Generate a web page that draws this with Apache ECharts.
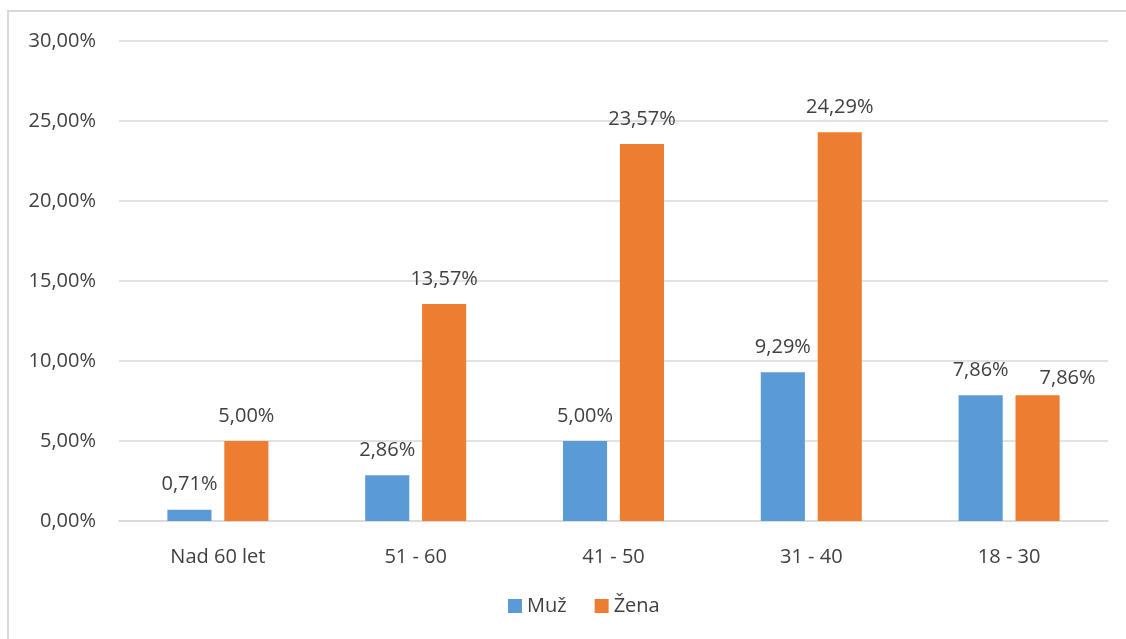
<!DOCTYPE html>
<html>
<head>
<meta charset="utf-8">
<script src="https://cdn.jsdelivr.net/npm/echarts@6/dist/echarts.min.js"></script>
<style>
  html, body { margin: 0; padding: 0; background: #fff; overflow: hidden; }
  #frame { position: absolute; left: 7px; top: 10px; width: 1130px; height: 640px;
           border: 2px solid #d9d9d9; box-sizing: border-box; }
  #chart { position: absolute; left: 0; top: 0; width: 1126px; height: 639px; }
</style>
</head>
<body>
<div id="frame"></div>
<div id="chart"></div>
<script>
// Age groups and share of respondents (%) by gender
const categories = ['Nad 60 let', '51 - 60', '41 - 50', '31 - 40', '18 - 30'];
const muz = [0.71, 2.86, 5.00, 9.29, 7.86];
const zena = [5.00, 13.57, 23.57, 24.29, 7.86];
const seriesNames = ['Muž', 'Žena'];

const fmt = v => v.toFixed(2).replace('.', ',') + '%';
const textColor = '#404040';
const font = 'Open Sans';
const fs = 20;

const chart = echarts.init(document.getElementById('chart'));
chart.setOption({
  animation: false,
  grid: { left: 119, right: 18, top: 41, bottom: 118 },
  legend: {
    bottom: 18, left: 503,
    itemWidth: 14, itemHeight: 14, itemGap: 28, itemTextGap: 7,
    icon: 'rect',
    textStyle: { color: textColor, fontSize: fs, fontFamily: font }
  },
  xAxis: {
    type: 'category', data: categories,
    axisLine: { lineStyle: { color: '#d9d9d9', width: 1.5 } },
    axisTick: { show: false },
    axisLabel: { color: textColor, fontSize: fs, fontFamily: font, margin: 26 }
  },
  yAxis: {
    type: 'value', min: 0, max: 30, interval: 5,
    axisLabel: { color: textColor, fontSize: fs, fontFamily: font, margin: 23,
                 formatter: v => fmt(v) },
    splitLine: { lineStyle: { color: '#d9d9d9', width: 1.5 } },
    axisLine: { show: false }, axisTick: { show: false }
  },
  series: [
    {
      name: seriesNames[0], type: 'bar', data: muz,
      barWidth: '22.3%', barGap: '29%',
      itemStyle: { color: '#5b9bd5' },
      label: { show: true, position: 'top', distance: 15, color: textColor,
               fontSize: fs, fontFamily: font, formatter: p => fmt(p.value) }
    },
    {
      name: seriesNames[1], type: 'bar',
      data: zena.map((v, i) => i === zena.length - 1
        ? { value: v, label: { offset: [30, 8] } } : v),
      barWidth: '22.3%',
      itemStyle: { color: '#ed7d31' },
      label: { show: true, position: 'top', distance: 15, color: textColor,
               fontSize: fs, fontFamily: font, formatter: p => fmt(p.value) }
    }
  ]
});
</script>
</body>
</html>
